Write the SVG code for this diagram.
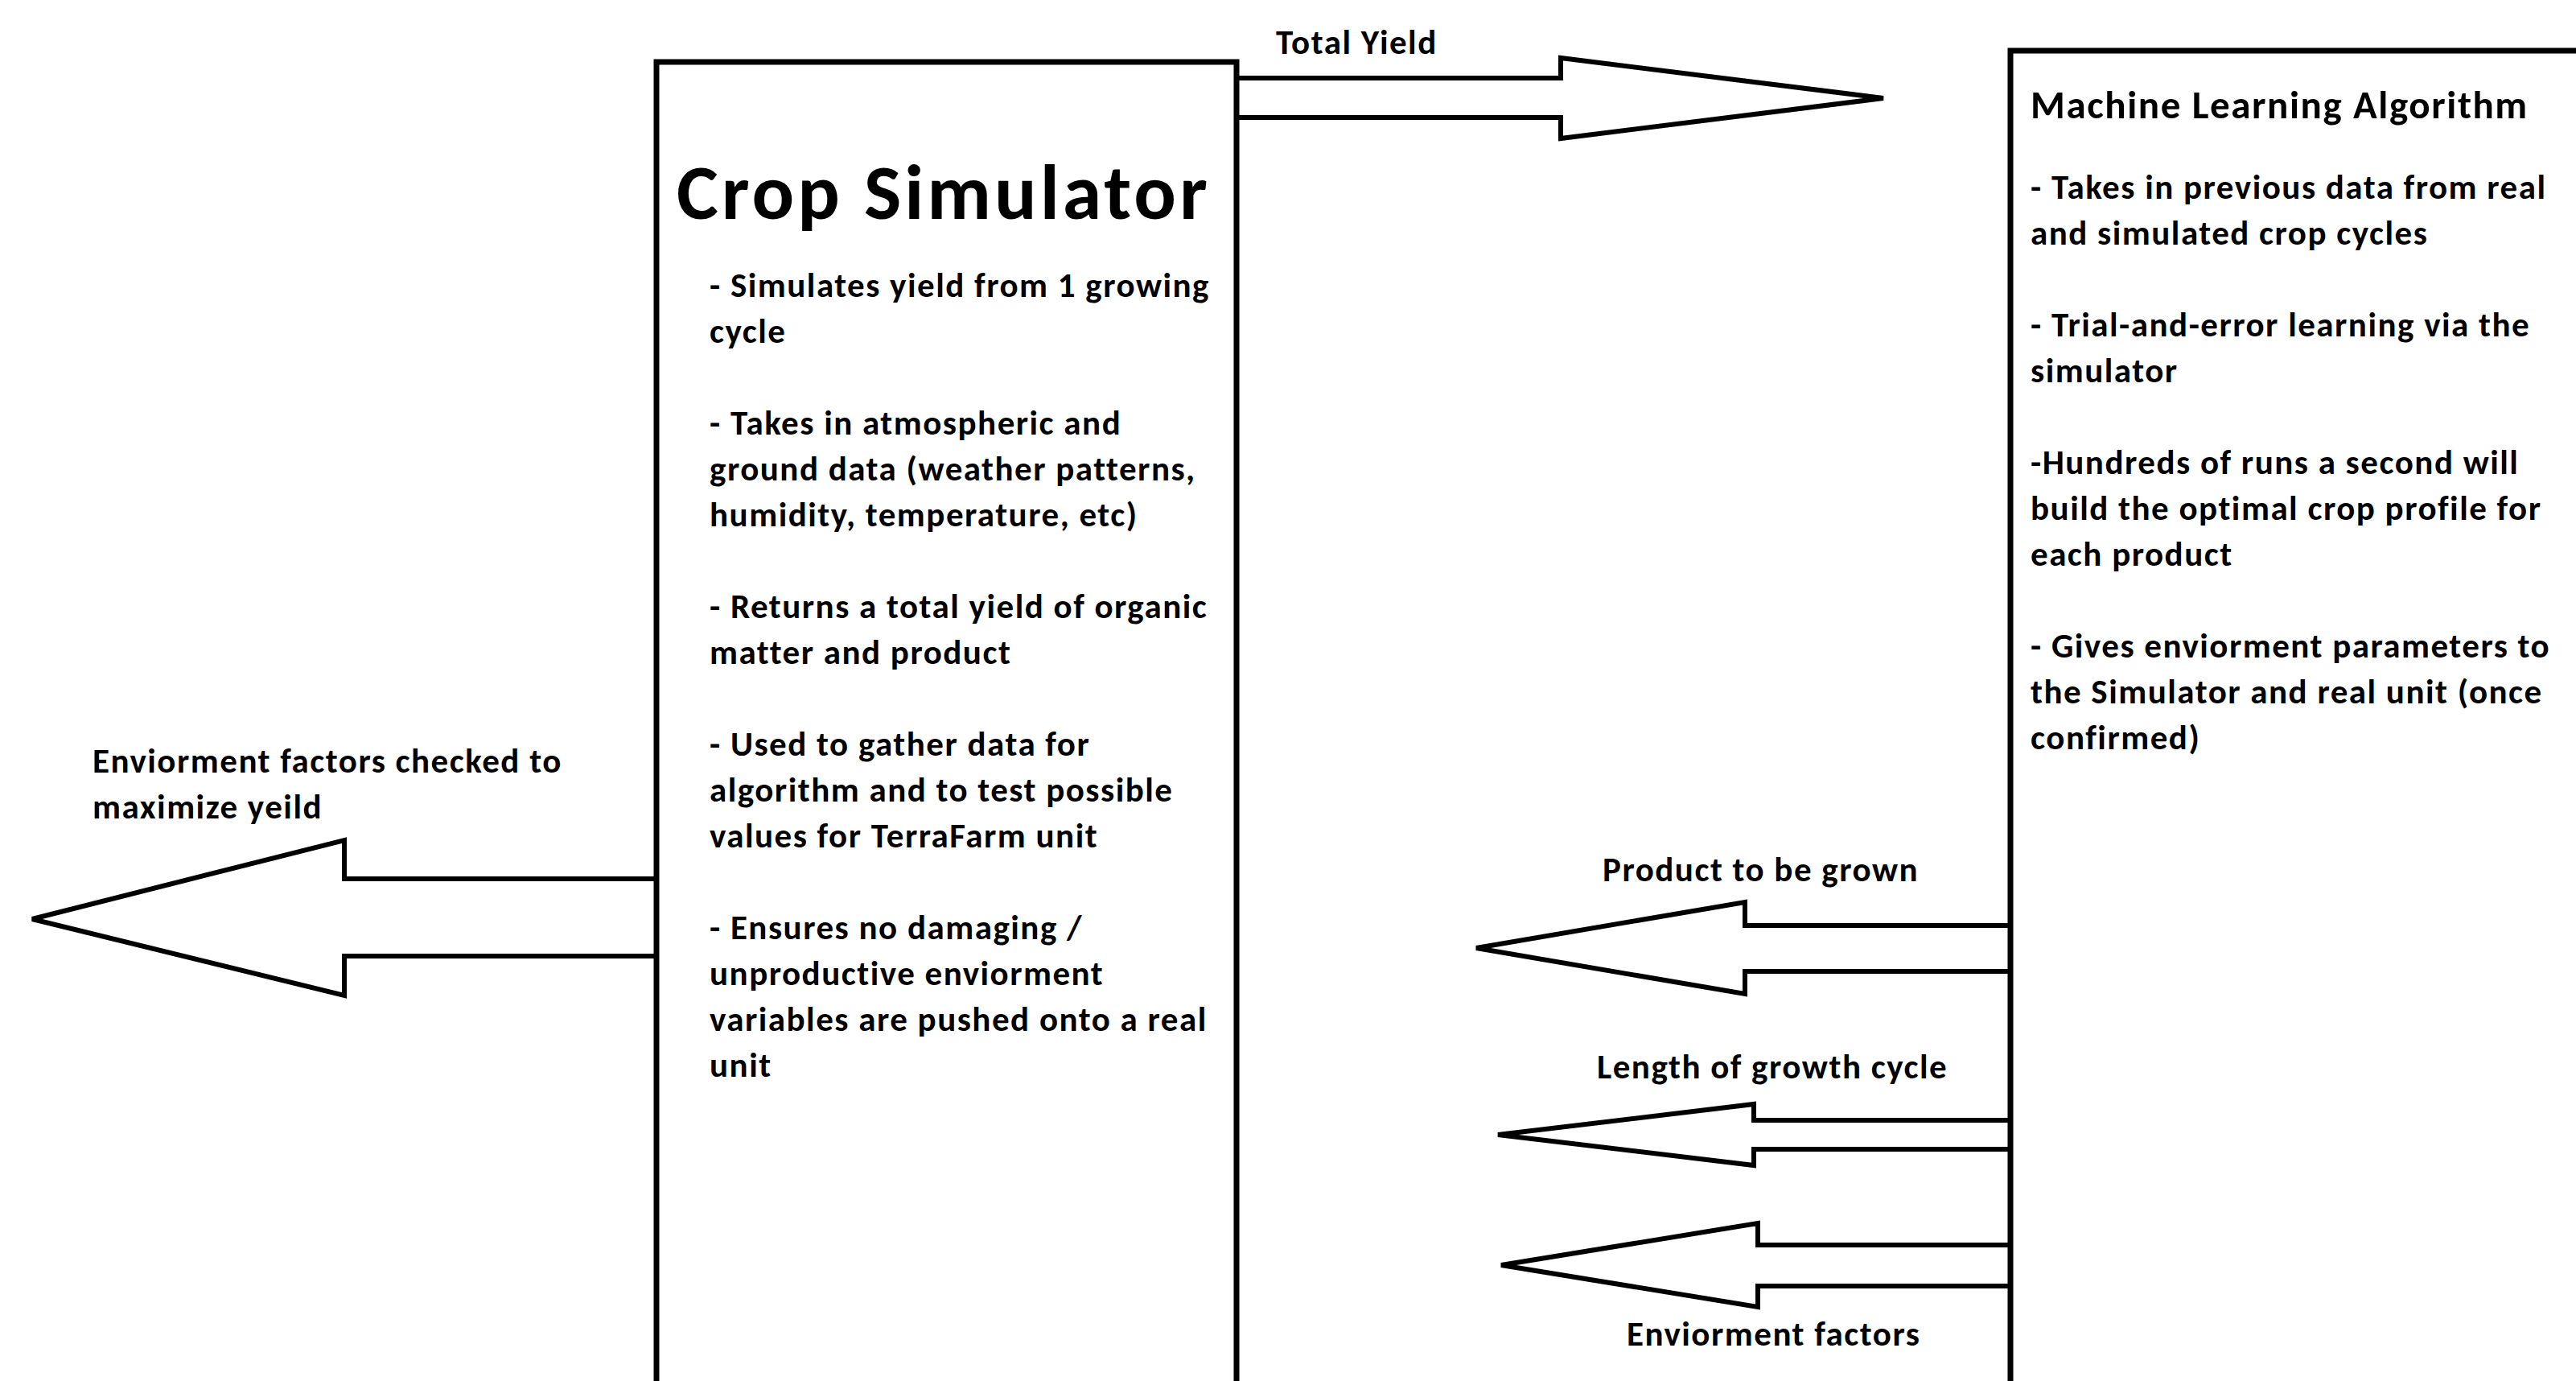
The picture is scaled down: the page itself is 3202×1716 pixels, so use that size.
<svg xmlns="http://www.w3.org/2000/svg" width="3202" height="1716" viewBox="0 0 3202 1716">
<style>
.box{fill:#fff;stroke:#000;stroke-width:7}
.arr{fill:#fff;stroke:#000;stroke-width:6;stroke-linejoin:miter}
text{font-family:Calibri,Carlito,Lato,"Liberation Sans",sans-serif;font-weight:bold;fill:#000}
.b{font-size:43px;letter-spacing:1.5px}
.t1{font-size:98px;letter-spacing:4px}
.t2{font-size:49px;letter-spacing:1.6px}
</style>
<rect width="3202" height="1716" fill="#fff"/>
<g id="connectors">
<polygon class="arr" points="1537,97 1940,97 1940,72 2341,122 1940,172 1940,146 1537,146"/>
<polygon class="arr" points="816,1092 428,1092 428,1044 40,1142 428,1237 428,1188 816,1188"/>
<polygon class="arr" points="2499,1150 2169,1150 2169,1121 1835,1178 2169,1235 2169,1207 2499,1207"/>
<polygon class="arr" points="2499,1392 2180,1392 2180,1372 1862,1410 2180,1448 2180,1428 2499,1428"/>
<polygon class="arr" points="2499,1547 2185,1547 2185,1520 1866,1572 2185,1624 2185,1598 2499,1598"/>
<text class="b" x="1586" y="67">Total Yield</text>
<text class="b" x="115" y="960">Enviorment factors checked to</text>
<text class="b" x="115" y="1017">maximize yeild</text>
<text class="b" x="1992" y="1095">Product to be grown</text>
<text class="b" x="1985" y="1340">Length of growth cycle</text>
<text class="b" x="2022" y="1672">Enviorment factors</text>
</g>
<g id="crop-simulator">
<rect class="box" x="816" y="77" width="721" height="1700"/>
<text class="t1" x="841" y="272">Crop Simulator</text>
<text class="b" x="882">
<tspan x="882" y="369">- Simulates yield from 1 growing</tspan>
<tspan x="882" y="426">cycle</tspan>
<tspan x="882" y="540">- Takes in atmospheric and</tspan>
<tspan x="882" y="597">ground data (weather patterns,</tspan>
<tspan x="882" y="654">humidity, temperature, etc)</tspan>
<tspan x="882" y="768">- Returns a total yield of organic</tspan>
<tspan x="882" y="825">matter and product</tspan>
<tspan x="882" y="939">- Used to gather data for</tspan>
<tspan x="882" y="996">algorithm and to test possible</tspan>
<tspan x="882" y="1053">values for TerraFarm unit</tspan>
<tspan x="882" y="1167">- Ensures no damaging /</tspan>
<tspan x="882" y="1224">unproductive enviorment</tspan>
<tspan x="882" y="1281">variables are pushed onto a real</tspan>
<tspan x="882" y="1338">unit</tspan>
</text>
</g>
<g id="ml-algorithm">
<rect class="box" x="2499" y="63" width="800" height="1700"/>
<text class="t2" x="2524" y="147">Machine Learning Algorithm</text>
<text class="b">
<tspan x="2524" y="247">- Takes in previous data from real</tspan>
<tspan x="2524" y="304">and simulated crop cycles</tspan>
<tspan x="2524" y="418">- Trial-and-error learning via the</tspan>
<tspan x="2524" y="475">simulator</tspan>
<tspan x="2524" y="589">-Hundreds of runs a second will</tspan>
<tspan x="2524" y="646">build the optimal crop profile for</tspan>
<tspan x="2524" y="703">each product</tspan>
<tspan x="2524" y="817">- Gives enviorment parameters to</tspan>
<tspan x="2524" y="874">the Simulator and real unit (once</tspan>
<tspan x="2524" y="931">confirmed)</tspan>
</text>
</g>
</svg>
